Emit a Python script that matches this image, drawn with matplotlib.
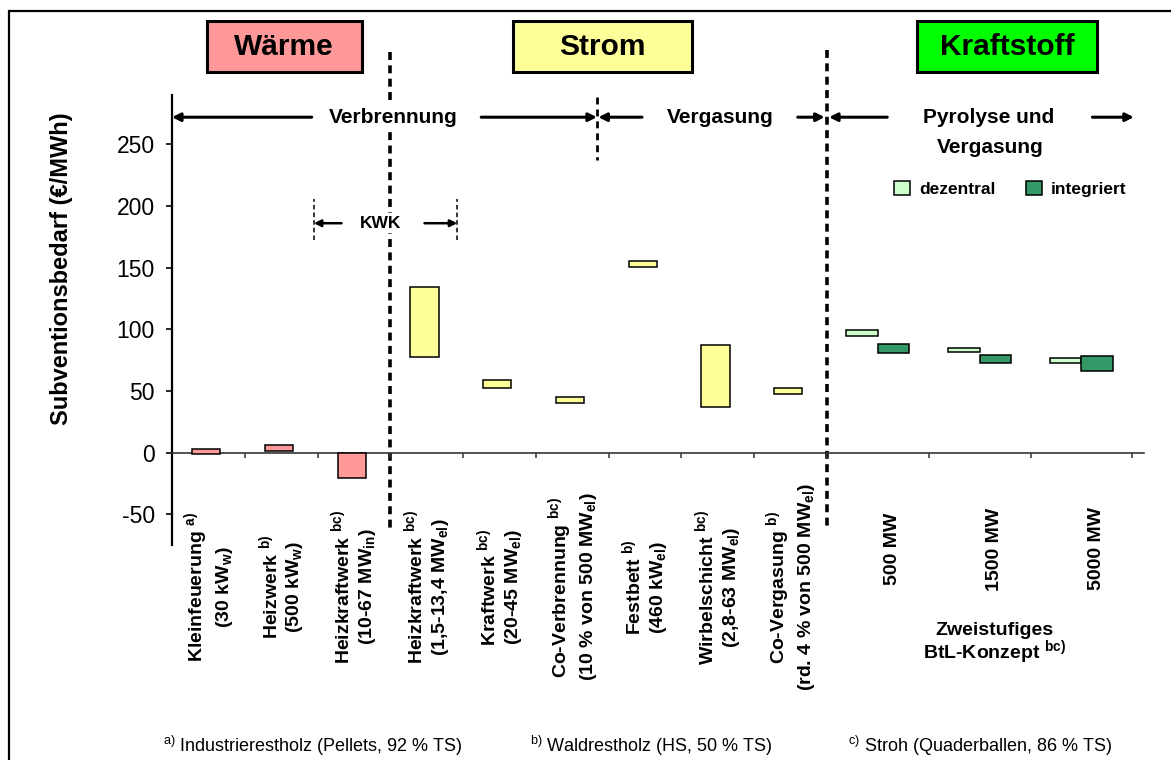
import matplotlib
matplotlib.use('Agg')
import matplotlib.pyplot as plt
import matplotlib.patches as mpatches
from matplotlib.transforms import blended_transform_factory
import numpy as np

plt.rcParams['font.family'] = ['Liberation Sans', 'DejaVu Sans']
plt.rcParams['mathtext.fontset'] = 'custom'
plt.rcParams['mathtext.rm'] = 'Liberation Sans'
plt.rcParams['mathtext.bf'] = 'Liberation Sans:bold'
plt.rcParams['mathtext.it'] = 'Liberation Sans:italic'

# ---------------- data ----------------
categories = [
    "Kleinfeuerung $^{\\mathbf{a)}}$\n(30 kW$_\\mathbf{w}$)",
    "Heizwerk $^{\\mathbf{b)}}$\n(500 kW$_\\mathbf{w}$)",
    "Heizkraftwerk $^{\\mathbf{bc)}}$\n(10-67 MW$_\\mathbf{in}$)",
    "Heizkraftwerk $^{\\mathbf{bc)}}$\n(1,5-13,4 MW$_\\mathbf{el}$)",
    "Kraftwerk $^{\\mathbf{bc)}}$\n(20-45 MW$_\\mathbf{el}$)",
    "Co-Verbrennung $^{\\mathbf{bc)}}$\n(10 % von 500 MW$_\\mathbf{el}$)",
    "Festbett $^{\\mathbf{b)}}$\n(460 kW$_\\mathbf{el}$)",
    "Wirbelschicht $^{\\mathbf{bc)}}$\n(2,8-63 MW$_\\mathbf{el}$)",
    "Co-Vergasung $^{\\mathbf{b)}}$\n(rd. 4 % von 500 MW$_\\mathbf{el}$)",
]
sector = ["Wärme", "Wärme", "Wärme", "Strom", "Strom", "Strom", "Strom", "Strom", "Strom"]
sub_low = [-1.0, 1.5, -20.5, 77.1, 52.0, 39.9, 150.6, 36.9, 47.6]
sub_high = [3.1, 6.3, 0.0, 133.9, 58.8, 45.2, 155.2, 87.1, 52.0]

btl_sizes = ["500 MW", "1500 MW", "5000 MW"]
dez_low = [94.2, 81.2, 72.3]
dez_high = [99.0, 84.9, 76.8]
int_low = [80.9, 72.8, 66.3]
int_high = [87.9, 78.8, 78.4]

yticks = [-50, 0, 50, 100, 150, 200, 250]
headers = ["Wärme", "Strom", "Kraftstoff"]
footnotes = [("a)", "Industrierestholz (Pellets, 92 % TS)"),
             ("b)", "Waldrestholz (HS, 50 % TS)"),
             ("c)", "Stroh (Quaderballen, 86 % TS)")]

# ---------------- style ----------------
sector_colors = {"Wärme": "#FF9999", "Strom": "#FFFF99"}
header_colors = ["#FF9999", "#FFFF99", "#00FF00"]
col_dez = "#CCFFCC"
col_int = "#339966"

W, H = 1171, 760
fig = plt.figure(figsize=(W / 100, H / 100), dpi=100)
fx = lambda px: px / W
fy = lambda py: 1 - py / H

ax_l, ax_r, ax_t, ax_b = 172, 1143.7, 95, 545
ax = fig.add_axes([fx(ax_l), fy(ax_b), fx(ax_r - ax_l), (ax_b - ax_t) / H])

widths = [1.0] * len(categories) + [1.4] * len(btl_sizes)
edges = np.concatenate([[0], np.cumsum(widths)])
centers = (edges[:-1] + edges[1:]) / 2
n = len(categories)

ax.set_xlim(0, 13.355)
ax.set_ylim(-75, 290)

# bars
for i in range(n):
    ax.bar(centers[i] - 0.03, sub_high[i] - sub_low[i], bottom=sub_low[i], width=0.39,
           color=sector_colors[sector[i]], edgecolor='black', linewidth=1.1, zorder=3)
bw = 0.43
bc = centers[n:]
ax.bar(bc - bw / 2, np.array(dez_high) - np.array(dez_low), bottom=dez_low, width=bw,
       color=col_dez, edgecolor='black', linewidth=1.1, zorder=3, label='dezentral')
ax.bar(bc + bw / 2, np.array(int_high) - np.array(int_low), bottom=int_low, width=bw,
       color=col_int, edgecolor='black', linewidth=1.1, zorder=3, label='integriert')

# axes styling
for s in ['top', 'right']:
    ax.spines[s].set_visible(False)
ax.spines['left'].set_linewidth(1.6)
ax.spines['bottom'].set_position(('data', 0))
ax.spines['bottom'].set_linewidth(1.2)
ax.spines['bottom'].set_color('#333333')
ax.set_yticks(yticks)
ax.set_yticklabels([str(v) for v in yticks], fontsize=16.5)
ax.tick_params(axis='y', direction='out', length=4.5, width=1.2, pad=8)
ax.set_xticks(edges[1:])
ax.set_xticklabels([])
ax.tick_params(axis='x', direction='out', length=3.5, width=1.1, color='#333333')
ax.patch.set_alpha(0)

fig.text(fx(62), fy(269), "Subventionsbedarf (€/MWh)", rotation=90, ha='center', va='center',
         fontsize=17, fontweight='bold')

# category labels
bt = blended_transform_factory(ax.transData, fig.transFigure)
for i in range(n):
    ax.text(centers[i], fy(587), categories[i], rotation=90, ha='center', va='center',
            multialignment='center', fontsize=14, fontweight='bold', transform=bt,
            linespacing=1.25)
for j, lab in enumerate(btl_sizes):
    ax.text(bc[j] + 0.2, fy(549), lab, rotation=90, ha='center', va='center',
            fontsize=14, fontweight='bold', transform=bt)
ax.text(11.3, fy(644), "Zweistufiges\nBtL-Konzept $^{\\mathbf{bc)}}$", ha='center', va='center',
        multialignment='center', fontsize=14, fontweight='bold', transform=bt, linespacing=1.0)

# dashed separators
ax.plot([3, 3], [fy(52), fy(530)], transform=bt, color='black', lw=2.6,
        ls=(0, (2.2, 1.5)), clip_on=False, zorder=1.5)
ax.plot([9, 9], [fy(50), fy(530)], transform=bt, color='black', lw=2.6,
        ls=(0, (2.2, 1.5)), clip_on=False, zorder=1.5)
ax.plot([5.84, 5.84], [fy(97), fy(160)], transform=bt, color='black', lw=2.0,
        ls=(0, (2.5, 1.8)), clip_on=False, zorder=1.5)

def arrow(x_tail, x_tip, y, lw=2.2, ms=12):
    ax.annotate('', xy=(x_tip, y), xytext=(x_tail, y), xycoords='data', textcoords='data',
                arrowprops=dict(arrowstyle='-|>', lw=lw, color='black', mutation_scale=ms,
                                shrinkA=0, shrinkB=0), annotation_clip=False)

wbox = dict(facecolor='white', edgecolor='none', pad=2.0)
# Verbrennung
yv = 272
arrow(1.92, 0.0, yv)
arrow(4.25, 5.84, yv)
ax.text(3.04, yv, "Verbrennung", ha='center', va='center', fontsize=15, fontweight='bold',
        bbox=wbox, zorder=10)
# Vergasung
arrow(6.46, 5.86, yv)
arrow(8.6, 8.97, yv)
ax.text(7.53, yv, "Vergasung", ha='center', va='center', fontsize=15, fontweight='bold')
# Pyrolyse
arrow(9.83, 9.03, yv)
arrow(12.65, 13.22, yv)
ax.text(11.23, yv, "Pyrolyse und", ha='center', va='center', fontsize=15, fontweight='bold')
ax.text(11.24, 247.8, "Vergasung", ha='center', va='center', fontsize=15, fontweight='bold')
# KWK
yk = 186
arrow(2.33, 1.95, yk, lw=1.8, ms=10)
arrow(3.47, 3.92, yk, lw=1.8, ms=10)
ax.text(2.86, yk, "KWK", ha='center', va='center', fontsize=12.5, fontweight='bold',
        bbox=wbox, zorder=10)
for xk in (1.95, 3.92):
    ax.plot([xk, xk], [172, 206], color='black', lw=1.1, ls=(0, (3, 2)))

# legend
ax.legend(loc='center left', bbox_to_anchor=(fx(894), fy(189)), bbox_transform=fig.transFigure,
          ncol=2, frameon=False, prop={'weight': 'bold', 'size': 12.5},
          handlelength=0.9, handleheight=0.9, handletextpad=0.55, columnspacing=1.75,
          borderpad=0, borderaxespad=0)

# header boxes
boxes = [(206.7, 361.6), (512.8, 692.3), (917.4, 1097.0)]
for (x0, x1), name, c in zip(boxes, headers, header_colors):
    fig.patches.append(mpatches.Rectangle((fx(x0), fy(72)), fx(x1 - x0), 51 / H,
                                          transform=fig.transFigure, facecolor=c,
                                          edgecolor='black', lw=2.2))
    fig.text(fx((x0 + x1) / 2), fy(47), name, ha='center', va='center', fontsize=21.5,
             fontweight='bold')

# footnotes
fig.text(fx(163), fy(746), "$^{\\mathrm{%s}}$ %s" % footnotes[0], ha='left', va='center', fontsize=13)
fig.text(fx(530), fy(746), "$^{\\mathrm{%s}}$ %s" % footnotes[1], ha='left', va='center', fontsize=13)
fig.text(fx(1112), fy(746), "$^{\\mathrm{%s}}$ %s" % footnotes[2], ha='right', va='center', fontsize=13)

# outer frame
fig.patches.append(mpatches.Rectangle((fx(9), fy(800)), fx(1250), (800 - 11) / H,
                                      transform=fig.transFigure, facecolor='none',
                                      edgecolor='black', lw=1.6))

fig.savefig('out.png', dpi=100)
